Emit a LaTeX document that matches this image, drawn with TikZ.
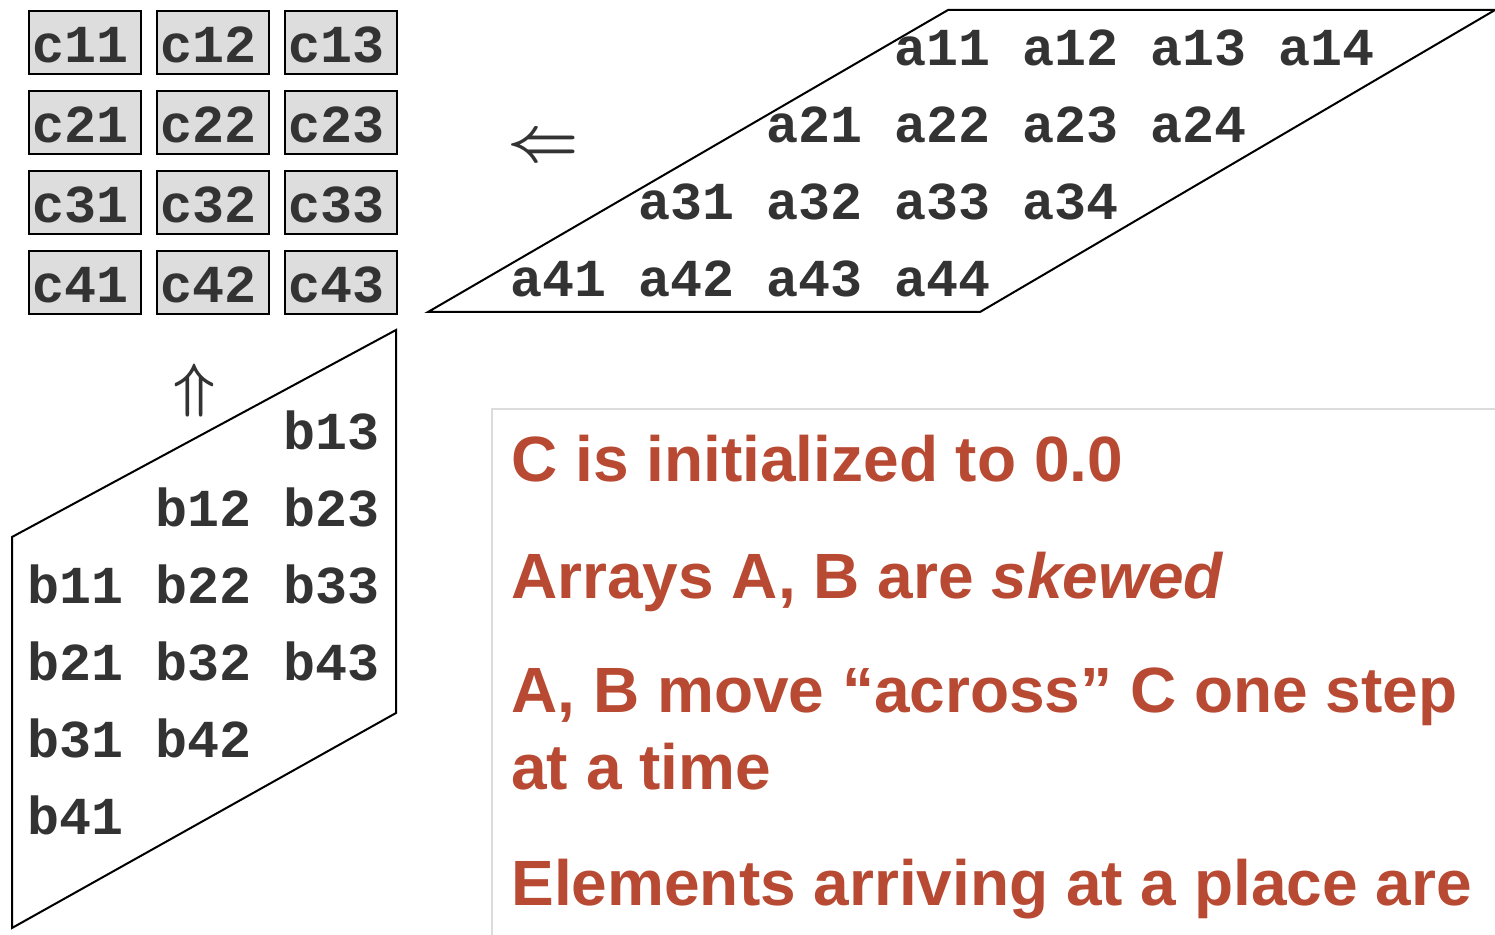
\documentclass[tikz,border=0pt]{standalone}
\usepackage{fontspec}
\setmainfont{Liberation Sans}
\setmonofont{Liberation Mono}
\usepackage{graphicx}
\usepackage{xcolor}
\usepackage{tikz}
\usetikzlibrary{positioning}
\definecolor{ink}{HTML}{333333}
\definecolor{cellfill}{HTML}{DDDDDD}
\definecolor{notered}{HTML}{B84A33}
\definecolor{framegray}{HTML}{DCDCDC}

\begin{document}
\begin{tikzpicture}[
  x=0.5pt, y=-0.5pt,
  cell/.style={draw=black, line width=0.8pt, fill=cellfill, text=ink,
    font=\fontsize{26.7}{30}\selectfont\ttfamily\bfseries,
    text width=52pt, align=left, inner xsep=2pt, inner ysep=0pt,
    text height=26pt, text depth=5.5pt, anchor=north west},
  elem/.style={text=ink, font=\fontsize{26.7}{30}\selectfont\ttfamily\bfseries,
    anchor=base west, inner sep=0pt},
  note/.style={text=notered, font=\fontsize{32}{38.5}\selectfont\bfseries,
    anchor=base west, align=left, inner sep=0pt},
  slab/.style={draw=black, line width=1pt, line join=miter},
  flow/.style={text=ink, inner sep=0pt},
]
\useasboundingbox (0,0) rectangle (1495,935);

% C array
\foreach \r in {1,...,4} {
  \foreach \c in {1,...,3} {
    \node[cell] (c\r\c) at ({28+128*(\c-1)}, {10+80*(\r-1)}) {c\r\c};
  }
}

% A array (skewed)
\draw[slab] (428,312) -- (980,312) -- (1495,10) -- (948,10) -- cycle;
\foreach \i in {1,...,4} {
  \foreach \j in {1,...,4} {
    \node[elem] (a\i\j) at ({894+128*(\j-\i)}, {66+77*(\i-1)}) {a\i\j};
  }
}
\node[flow] (amove) at (543,148) {\scalebox{1.25}{\Huge\boldmath$\Leftarrow$}};

% B array (skewed)
\draw[slab] (12,537) -- (396,330) -- (396,713) -- (12,928) -- cycle;
\foreach \i in {1,...,4} {
  \foreach \j in {1,...,3} {
    \node[elem] (b\i\j) at ({27+128*(\j-1)}, {450+76.8*(\i+2-\j)}) {b\i\j};
  }
}
\node[flow] (bmove) at (194,391) {\scalebox{1.2}{\Huge\boldmath$\Uparrow$}};

% Notes
\draw[framegray, line width=1pt] (492,935) -- (492,409) -- (1495,409);
\node[note] (n1) at (511,482) {C is initialized to 0.0};
\node[note] (n2) at (511,598) {Arrays A, B are \textit{skewed}};
\node[note] (n3) at (511,789) {A, B move “across” C one step\\at a time};
\node[note] (n4) at (511,905) {Elements arriving at a place are};

\end{tikzpicture}
\end{document}
